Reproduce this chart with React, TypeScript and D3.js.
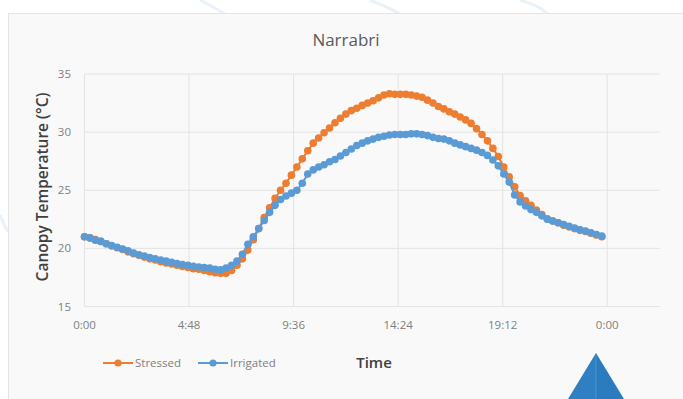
import React from 'react';
import * as d3 from 'd3';

// Canopy temperature, one reading every 15 minutes starting at 0:00
const stressed = [
  21.0, 20.9, 20.75, 20.6, 20.4, 20.2, 20.05, 19.9, 19.7, 19.55, 19.4, 19.25,
  19.1, 19.0, 18.85, 18.75, 18.65, 18.55, 18.45, 18.35, 18.25, 18.2, 18.1, 18.0,
  17.9, 17.85, 17.85, 18.1, 18.55, 19.1, 19.85, 20.75, 21.7, 22.65, 23.5, 24.3,
  25.0, 25.6, 26.3, 27.0, 27.7, 28.4, 29.05, 29.5, 29.95, 30.35, 30.8, 31.2,
  31.55, 31.85, 32.05, 32.3, 32.5, 32.7, 32.95, 33.2, 33.3, 33.25, 33.25, 33.25,
  33.2, 33.1, 33.0, 32.75, 32.5, 32.2, 32.0, 31.75, 31.55, 31.3, 31.05, 30.75,
  30.3, 29.8, 29.25, 28.6, 27.9, 27.0, 26.15, 25.3, 24.55, 24.1, 23.7, 23.3,
  22.9, 22.55, 22.35, 22.2, 22.0, 21.85, 21.7, 21.55, 21.45, 21.3, 21.15, 21.0,
];

const irrigated = [
  21.0, 20.9, 20.7, 20.6, 20.4, 20.25, 20.1, 19.95, 19.8, 19.6, 19.45, 19.35,
  19.2, 19.1, 19.0, 18.9, 18.8, 18.7, 18.6, 18.55, 18.45, 18.4, 18.35, 18.3,
  18.2, 18.15, 18.3, 18.55, 18.9, 19.5, 20.35, 21.0, 21.7, 22.4, 23.1, 23.7,
  24.2, 24.5, 24.75, 25.0, 25.6, 26.4, 26.75, 27.0, 27.2, 27.45, 27.65, 27.95,
  28.25, 28.55, 28.85, 29.05, 29.25, 29.4, 29.55, 29.65, 29.75, 29.8, 29.8, 29.8,
  29.85, 29.85, 29.8, 29.7, 29.55, 29.45, 29.4, 29.25, 29.05, 28.9, 28.75, 28.6,
  28.45, 28.25, 28.0, 27.6, 27.1, 26.4, 25.7, 24.6, 24.0, 23.65, 23.35, 23.1,
  22.8, 22.5, 22.35, 22.2, 22.05, 21.9, 21.75, 21.6, 21.5, 21.35, 21.2, 21.05,
];

const stepMinutes = 15;

// x axis in fractions of a day (Excel time), labels as shown
const xTickValues = [0, 0.2, 0.4, 0.6, 0.8, 1.0];
const xTickLabels = ['0:00', '4:48', '9:36', '14:24', '19:12', '0:00'];
const yTickValues = [15, 20, 25, 30, 35];

const seriesNames = ['Stressed', 'Irrigated'];
const colors = ['#ed7d31', '#5b9bd5'];

const W = 683;
const H = 399;
const font = '"Open Sans", "Noto Sans", sans-serif';

export default function App() {
  const x = d3.scaleLinear().domain([0, 1.1]).range([84.5, 659.5]);
  const y = d3.scaleLinear().domain([15, 35]).range([306.5, 74]);

  const dayFrac = (i: number) => (i * stepMinutes) / 1440;
  const line = d3
    .line<number>()
    .x((_, i) => x(dayFrac(i)))
    .y((d) => y(d));

  const series = [stressed, irrigated];

  return (
    <svg
      width={W}
      height={H}
      style={{ position: 'fixed', left: 0, top: 0, display: 'block' }}
    >
      <rect x={0} y={0} width={W} height={H} fill="#ffffff" />
      {/* faint watermark curves behind the panel */}
      <g fill="none" stroke="#e9f1f9" strokeWidth={3}>
        <path d="M200,0 Q215,8 225,14" />
        <path d="M370,0 Q390,8 400,14" />
        <path d="M520,0 Q540,6 548,14" />
        <path d="M0,215 Q4,225 8,232" />
      </g>
      <rect x={8.5} y={13.5} width={W} height={H} fill="#f9f9f9" stroke="#e4e4e4" />

      {/* gridlines */}
      <g stroke="#e3e3e3" strokeWidth={1}>
        {yTickValues.map((v) => (
          <line key={'h' + v} x1={x(0)} x2={x(1.1)} y1={y(v)} y2={y(v)} />
        ))}
        {xTickValues.map((v) => (
          <line key={'v' + v} x1={x(v)} x2={x(v)} y1={y(35)} y2={y(15)} />
        ))}
      </g>

      {/* y tick labels */}
      <g fontFamily={font} fontSize={11.5} fill="#7f7f7f" textAnchor="end">
        {yTickValues.map((v) => (
          <text key={v} x={71} y={y(v) + 4}>
            {v}
          </text>
        ))}
      </g>

      {/* x tick labels */}
      <g fontFamily={font} fontSize={11.5} fill="#7f7f7f" textAnchor="middle">
        {xTickValues.map((v, i) => (
          <text key={i} x={x(v)} y={329}>
            {xTickLabels[i]}
          </text>
        ))}
      </g>

      {/* series */}
      {series.map((s, k) => (
        <g key={k}>
          <path d={line(s) || ''} fill="none" stroke={colors[k]} strokeWidth={2} />
          {s.map((v, i) => (
            <circle key={i} cx={x(dayFrac(i))} cy={y(v)} r={3.8} fill={colors[k]} />
          ))}
        </g>
      ))}

      {/* title */}
      <text
        x={346}
        y={46}
        textAnchor="middle"
        fontFamily={font}
        fontSize={17}
        fill="#595959"
      >
        Narrabri
      </text>

      {/* y axis title */}
      <text
        transform={`translate(48,187) rotate(-90)`}
        textAnchor="middle"
        fontFamily={font}
        fontSize={15.5}
        fontWeight={600}
        fill="#404040"
      >
        Canopy Temperature (°C)
      </text>

      {/* x axis title */}
      <text
        x={374}
        y={368}
        textAnchor="middle"
        fontFamily={font}
        fontSize={15}
        fontWeight={600}
        fill="#404040"
      >
        Time
      </text>

      {/* legend */}
      {seriesNames.map((name, k) => {
        const lx = 103 + k * 95;
        return (
          <g key={name}>
            <line x1={lx} x2={lx + 30} y1={363} y2={363} stroke={colors[k]} strokeWidth={2} />
            <circle cx={lx + 15} cy={363} r={3.6} fill={colors[k]} />
            <text x={lx + 32} y={367} fontFamily={font} fontSize={11.5} fill="#7f7f7f">
              {name}
            </text>
          </g>
        );
      })}

      {/* blue arrow marker at bottom right */}
      <polygon points="596,353 568,399 596,399" fill="#2f7fc3" />
      <polygon points="596,353 624,399 596,399" fill="#2b7bbf" />
      <line x1={596} x2={596} y1={355} y2={399} stroke="#5a9ad3" strokeWidth={0.8} />
    </svg>
  );
}
